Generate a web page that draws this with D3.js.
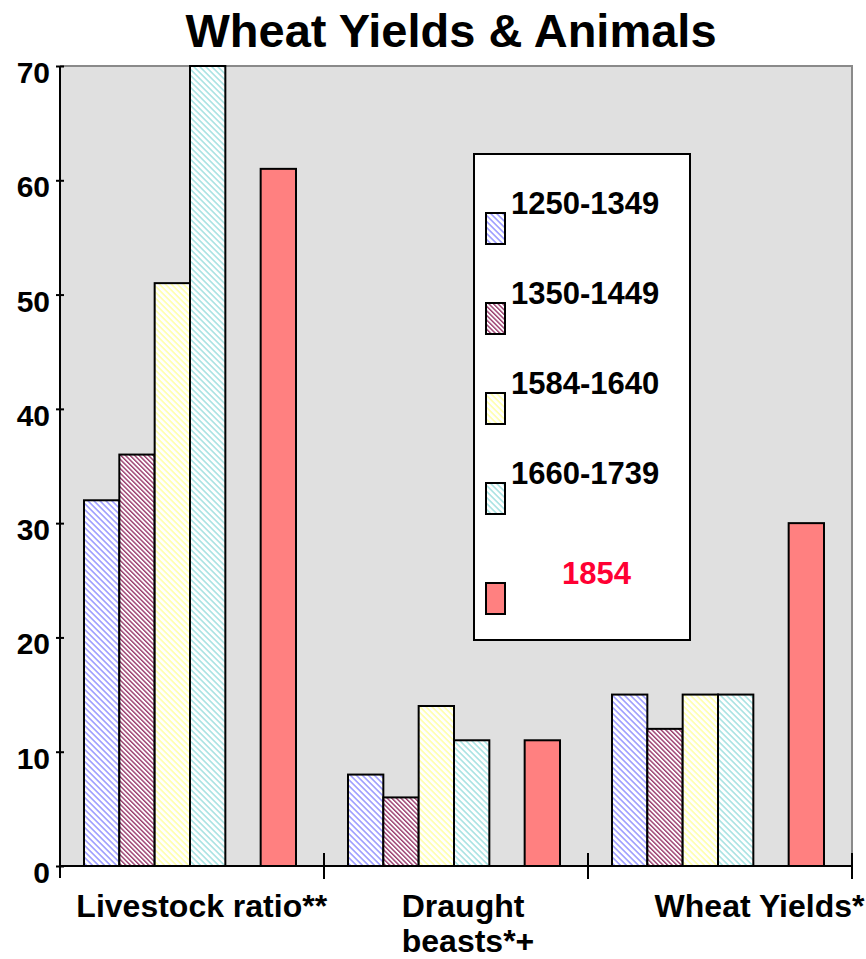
<!DOCTYPE html>
<html>
<head>
<meta charset="utf-8">
<script src="https://cdn.jsdelivr.net/npm/d3@7"></script>
<style>
  html, body { margin: 0; padding: 0; background: #fff; }
  text { font-family: "Liberation Sans", Arial, Helvetica, sans-serif; font-weight: bold; }
</style>
</head>
<body>
<svg id="chart" width="866" height="959"></svg>
<script>
// ---------- data ----------
const categories = ["Livestock ratio**", "Draught beasts*+", "Wheat Yields*"];
const categoryLines = [["Livestock ratio**"], ["Draught", "beasts*+"], ["Wheat Yields*"]];
const seriesNames = ["1250-1349", "1350-1449", "1584-1640", "1660-1739", "1854"];
const s1250_1349 = [32, 8, 15];
const s1350_1449 = [36, 6, 12];
const s1584_1640 = [51, 14, 15];
const s1660_1739 = [70, 11, 15];
const s1854 = [61, 11, 30];
const yTicks = [0, 10, 20, 30, 40, 50, 60, 70];
const chartTitle = "Wheat Yields & Animals";

const seriesValues = [s1250_1349, s1350_1449, s1584_1640, s1660_1739, s1854];
// slot keys: an empty spacer slot precedes the 1854 bar
const slotKeys = ["1250-1349", "1350-1449", "1584-1640", "1660-1739", "spacer", "1854"];

// ---------- styles ----------
const patterns = {
  "1250-1349": { color: "#9a9aff", period: 6, line: 2.2 },
  "1350-1449": { color: "#9a3d6e", period: 4.6, line: 2.0 },
  "1584-1640": { color: "#ffffb0", period: 6, line: 2.4 },
  "1660-1739": { color: "#a6e2e2", period: 6, line: 2.2 }
};
const solidColor = { "1854": "#ff8080" };
const labelShift = [10, 12, 40]; // horizontal shift of each category label from its group centre

const svg = d3.select("#chart");
const W = 866, H = 959;
const plot = { left: 60, right: 852, top: 66, bottom: 866 };

// defs
const defs = svg.append("defs");
Object.entries(patterns).forEach(([k, p], i) => {
  const pat = defs.append("pattern")
    .attr("id", "pat" + i)
    .attr("patternUnits", "userSpaceOnUse")
    .attr("width", p.period / Math.SQRT2)
    .attr("height", 10)
    .attr("patternTransform", "rotate(-45)");
  pat.append("rect").attr("width", p.period / Math.SQRT2).attr("height", 10).attr("fill", "#fff");
  pat.append("rect").attr("width", p.line / Math.SQRT2).attr("height", 10).attr("fill", p.color);
});
function fillFor(name) {
  const idx = Object.keys(patterns).indexOf(name);
  return idx >= 0 ? `url(#pat${idx})` : solidColor[name];
}

// scales
const x0 = d3.scaleBand().domain(categories).range([plot.left, plot.right]).padding(0);
const x1 = d3.scaleBand().domain(slotKeys).range([24, 236]).padding(0);
const y = d3.scaleLinear().domain([0, 70]).range([plot.bottom, plot.top]);

// title
svg.append("text")
  .attr("x", 451).attr("y", 47)
  .attr("text-anchor", "middle")
  .attr("font-size", 47)
  .attr("fill", "#000")
  .text(chartTitle);

// plot background
svg.append("rect")
  .attr("x", plot.left).attr("y", plot.top)
  .attr("width", plot.right - plot.left).attr("height", plot.bottom - plot.top)
  .attr("fill", "#e0e0e0");
// gray frame top/right
svg.append("path")
  .attr("d", `M${plot.left},${plot.top}H${plot.right}V${plot.bottom}`)
  .attr("fill", "none").attr("stroke", "#8a8a8a").attr("stroke-width", 2);

// bars
const groups = svg.append("g").selectAll("g")
  .data(categories)
  .join("g")
  .attr("transform", d => `translate(${x0(d)},0)`);

groups.selectAll("rect")
  .data((d, ci) => seriesNames.map((s, si) => ({ series: s, value: seriesValues[si][ci] })))
  .join("rect")
  .attr("x", d => x1(d.series))
  .attr("width", x1.bandwidth())
  .attr("y", d => y(d.value))
  .attr("height", d => y(0) - y(d.value))
  .attr("fill", d => fillFor(d.series))
  .attr("stroke", "#000")
  .attr("stroke-width", 2);

// y axis
const yAxis = d3.axisLeft(y).tickValues(yTicks).tickSize(0).tickPadding(0);
const ya = svg.append("g").attr("transform", `translate(${plot.left},0)`).call(yAxis);
ya.select(".domain").remove();
ya.selectAll(".tick text")
  .attr("x", -10).attr("dy", "0.55em")
  .attr("font-size", 30).attr("fill", "#000")
  .style("font-family", "'Liberation Sans', Arial, sans-serif").style("font-weight", "bold");
ya.selectAll(".tick").append("line")
  .attr("x1", -4).attr("x2", 4).attr("stroke", "#000").attr("stroke-width", 2);
svg.append("line")
  .attr("x1", plot.left).attr("x2", plot.left)
  .attr("y1", plot.top).attr("y2", plot.bottom + 12)
  .attr("stroke", "#000").attr("stroke-width", 2);

// x axis
svg.append("line")
  .attr("x1", plot.left).attr("x2", plot.right)
  .attr("y1", plot.bottom).attr("y2", plot.bottom)
  .attr("stroke", "#000").attr("stroke-width", 2);
const boundaries = categories.map(c => x0(c) + x0.bandwidth());
svg.append("g").selectAll("line")
  .data(boundaries)
  .join("line")
  .attr("x1", d => d).attr("x2", d => d)
  .attr("y1", plot.bottom - 13).attr("y2", plot.bottom + 13)
  .attr("stroke", "#000").attr("stroke-width", 2);

// category labels
categories.forEach((c, ci) => {
  const t = svg.append("text").attr("font-size", 32).attr("fill", "#000");
  categoryLines[ci].forEach((ln, li) => {
    t.append("tspan").attr("x", 0).attr("y", 917 + li * 35).text(ln);
  });
  const w = t.node().getBBox().width;
  let left = x0(c) + x0.bandwidth() / 2 + labelShift[ci] - w / 2;
  if (left + w > W - 1) left = W - 1 - w;
  t.selectAll("tspan").attr("x", left);
});

// legend
const lg = svg.append("g");
lg.append("rect")
  .attr("x", 474).attr("y", 154).attr("width", 216).attr("height", 486)
  .attr("fill", "#fff").attr("stroke", "#000").attr("stroke-width", 2);
seriesNames.forEach((s, i) => {
  const top = 213 + i * 90 + (i === 4 ? 10 : 0);
  lg.append("rect")
    .attr("x", 486).attr("y", top).attr("width", 19).attr("height", 31)
    .attr("fill", fillFor(s)).attr("stroke", "#000").attr("stroke-width", 2);
  lg.append("text")
    .attr("x", s === "1854" ? 562 : 511)
    .attr("y", top + 1)
    .attr("font-size", 31)
    .attr("fill", s === "1854" ? "#ff0033" : "#000")
    .text(s);
});
</script>
</body>
</html>
